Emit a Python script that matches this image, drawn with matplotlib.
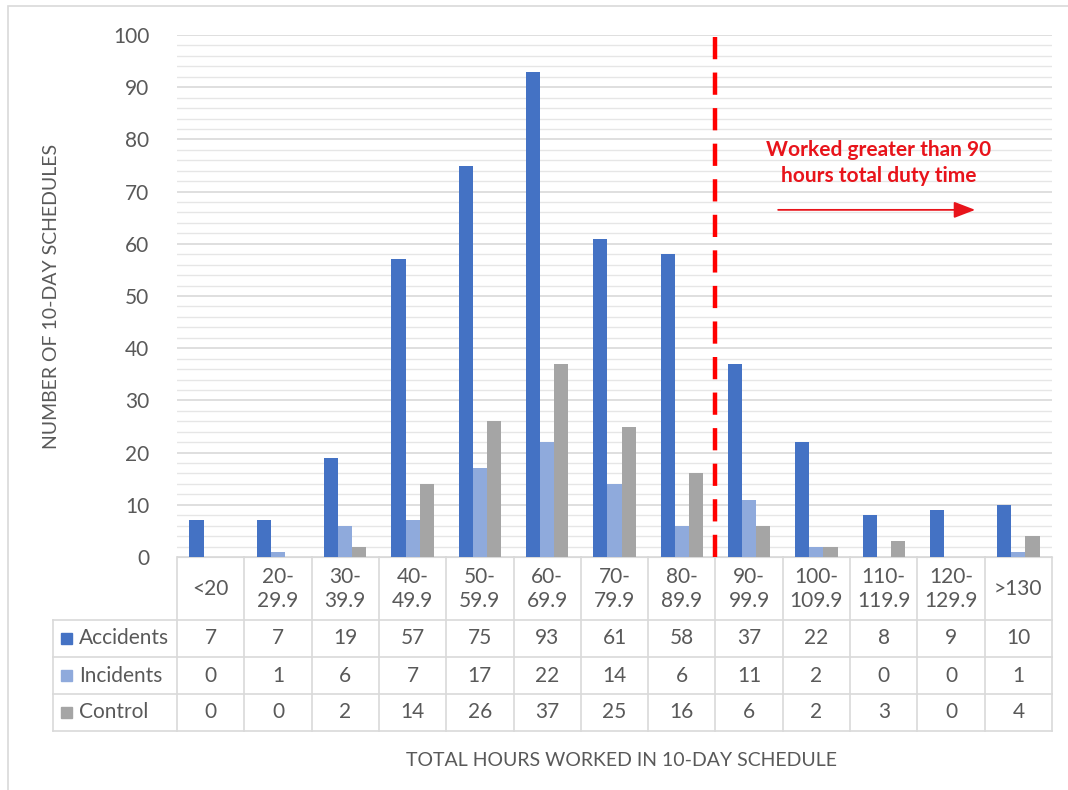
import numpy as np
import matplotlib.pyplot as plt
from matplotlib.patches import Rectangle

plt.rcParams['font.family'] = ['Lato', 'DejaVu Sans']

categories = ['<20', '20-\n29.9', '30-\n39.9', '40-\n49.9', '50-\n59.9', '60-\n69.9',
              '70-\n79.9', '80-\n89.9', '90-\n99.9', '100-\n109.9', '110-\n119.9',
              '120-\n129.9', '>130']
accidents = [7, 7, 19, 57, 75, 93, 61, 58, 37, 22, 8, 9, 10]
incidents = [0, 1, 6, 7, 17, 22, 14, 6, 11, 2, 0, 0, 1]
control = [0, 0, 2, 14, 26, 37, 25, 16, 6, 2, 3, 0, 4]
series = [('Accidents', accidents, '#4472C4'),
          ('Incidents', incidents, '#8FAADC'),
          ('Control', control, '#A5A5A5')]

W, H = 1068, 790
fig = plt.figure(figsize=(W / 100, H / 100), dpi=100)
fig.patches.append(Rectangle((8 / W, -0.1), 1.2, 1 - 6 / H + 0.1, transform=fig.transFigure,
                             fill=False, edgecolor='#D9D9D9', lw=1.2))

ax = fig.add_axes([177 / W, (H - 557) / H, 875 / W, 522 / H])
x = np.arange(len(categories))
bw = 0.21
for i, (name, vals, col) in enumerate(series):
    ax.bar(x + (i - 1) * bw, vals, bw, color=col, zorder=3)

ax.set_xlim(-0.5, len(categories) - 0.5)
ax.set_ylim(0, 100)
ax.set_yticks(range(0, 101, 10))
ax.set_yticks(range(0, 101, 2), minor=True)
ax.grid(axis='y', which='major', color='#D9D9D9', lw=1.2, zorder=0)
ax.grid(axis='y', which='minor', color='#E6E6E6', lw=1.0, zorder=0)
ax.tick_params(axis='y', which='both', length=0, labelsize=15, labelcolor='#595959', pad=20)
ax.set_xticks([])
for s in ['top', 'right', 'left']:
    ax.spines[s].set_visible(False)
ax.spines['bottom'].set_color('#D9D9D9')
ax.set_ylabel('NUMBER OF 10-DAY SCHEDULES', fontsize=14, color='#595959')
ax.yaxis.set_label_coords((60 - 177) / 875, 0.5)

# threshold line and note
ax.plot([7.5, 7.5], [0, 100.5], color='#FF0000', lw=3.2, linestyle=(0, (5, 3)), zorder=4,
        clip_on=False)
ax.text(9.92, 75.5, 'Worked greater than 90\nhours total duty time', color='#E8141B',
        fontsize=15, fontweight='bold', ha='center', va='center', linespacing=1.4)
ax.annotate('', xy=(11.4, 66.5), xytext=(8.39, 66.5),
            arrowprops=dict(arrowstyle='-|>,head_length=1.3,head_width=0.5',
                            color='#E8141B', lw=1.3))

# data table below the axes
tr = ax.get_xaxis_transform()
ph = 522
cw = 875 / 13
def yax(py):
    return -(py - 557) / ph

left = -0.5 - (177 - 53) / cw
right = len(categories) - 0.5
row_edges = [557, 620, 657, 694, 731]
line_kw = dict(color='#D9D9D9', lw=1.2, transform=tr, clip_on=False)
for py in row_edges[1:]:
    ax.plot([left, right], [yax(py), yax(py)], **line_kw)
for k in range(len(categories) + 1):
    ax.plot([k - 0.5, k - 0.5], [yax(557), yax(731)], **line_kw)
ax.plot([left, left], [yax(620), yax(731)], **line_kw)

for k, c in enumerate(categories):
    ax.text(k, yax(589), c, transform=tr, ha='center', va='center', fontsize=15,
            color='#595959', linespacing=1.25)

for r, (name, vals, col) in enumerate(series):
    yc = yax((row_edges[r + 1] + row_edges[r + 2]) / 2)
    ax.add_patch(Rectangle((left + (61 - 53) / cw, yc - 0.0105),
                           11 / cw, 0.021, transform=tr, color=col, clip_on=False))
    ax.text(left + (79 - 53) / cw, yc, name, transform=tr, ha='left', va='center',
            fontsize=15, color='#595959')
    for k, v in enumerate(vals):
        ax.text(k, yc, str(v), transform=tr, ha='center', va='center', fontsize=15,
                color='#595959')

fig.text(622 / W, 1 - 760 / H, 'TOTAL HOURS WORKED IN 10-DAY SCHEDULE', ha='center',
         va='center', fontsize=14, color='#595959')

fig.savefig('out.png', dpi=100)
